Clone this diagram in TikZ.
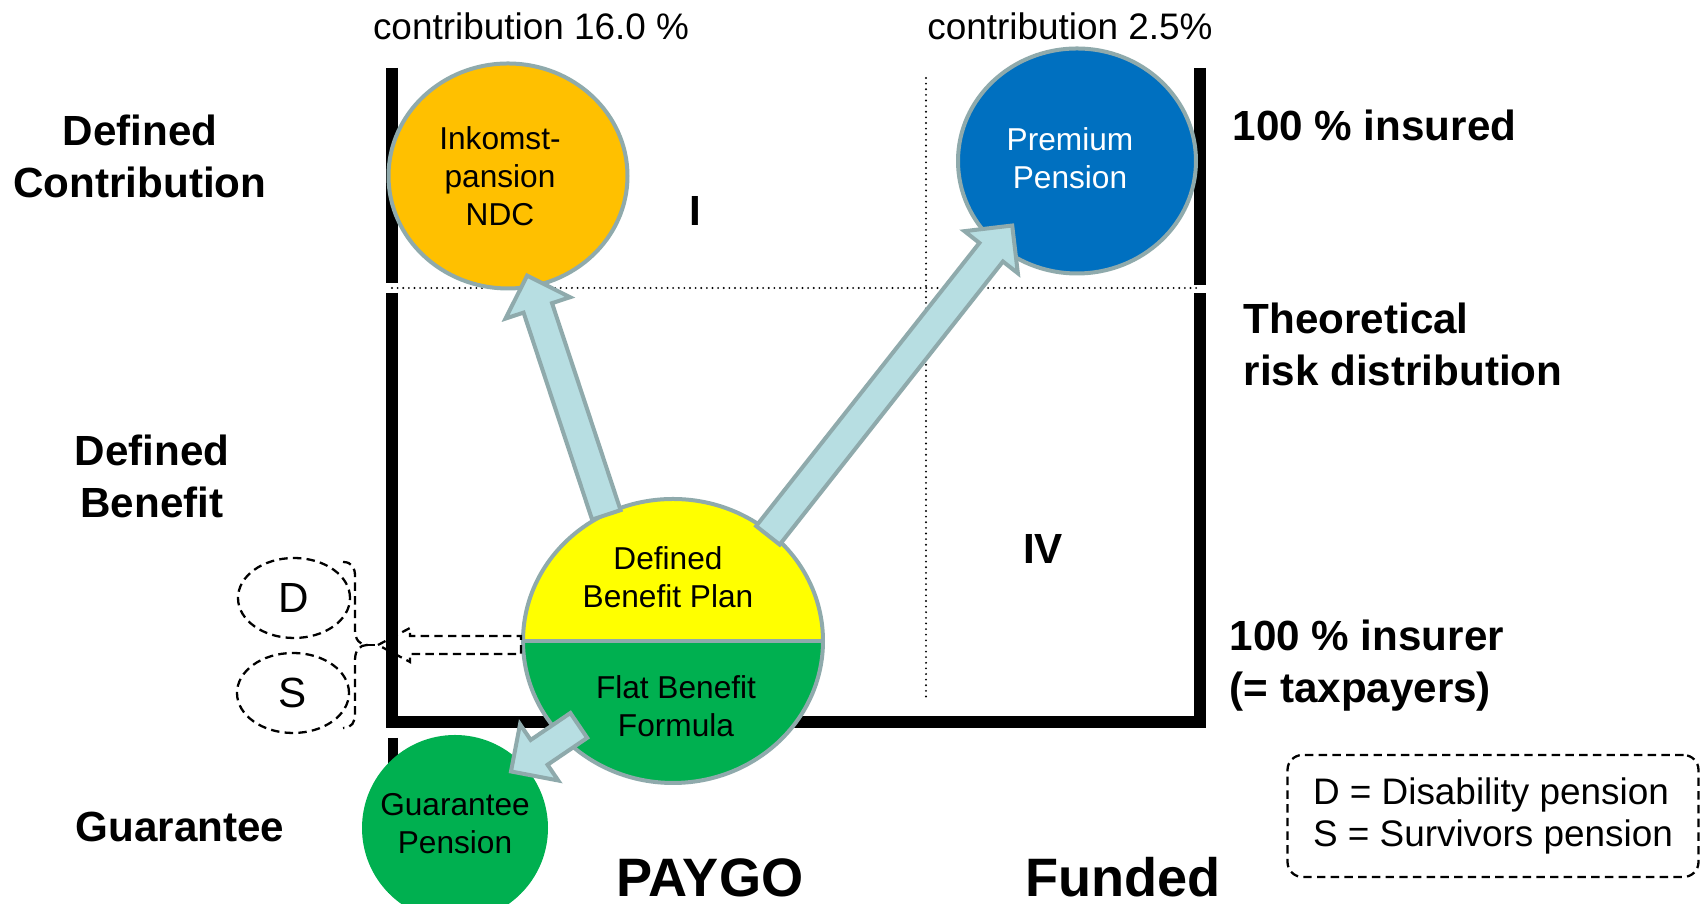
\documentclass[tikz,border=0pt]{standalone}
\usepackage{fontspec}
\setmainfont{Liberation Sans}
\usetikzlibrary{shapes.geometric,shapes.arrows,calc}

\definecolor{ringgray}{RGB}{143,170,172}
\definecolor{arrowfill}{RGB}{183,222,226}
\definecolor{ndcorange}{RGB}{255,192,0}
\definecolor{ppmblue}{RGB}{0,112,192}
\definecolor{dbyellow}{RGB}{255,255,0}
\definecolor{dbgreen}{RGB}{0,176,80}

% fat arrow from #2 (tail) to #3 (tip)
\newcommand{\fatarrow}[3][bigarrow]{%
  \path let \p1 = ($(#3)-(#2)$), \n1 = {atan2(\y1,\x1)}, \n2 = {veclen(\x1,\y1)} in
    node[#1, rotate=\n1, minimum height=\n2, anchor=tail] at (#2) {};}

\begin{document}
\begin{tikzpicture}[
		x=0.1mm, y=-0.1mm,
		rim/.style={line width=1.2mm, line join=miter},
		dotline/.style={line width=0.6pt, line cap=round, dash pattern=on 0pt off 1.6pt},
		dashpath/.style={line width=0.65pt, dash pattern=on 2.4pt off 1.5pt},
		pension/.style={ellipse, draw=ringgray, line width=0.4mm, inner sep=0pt},
		circtext/.style={inner sep=0pt, align=center, font=\fontsize{9}{10.8}\selectfont},
		bigarrow/.style={single arrow, draw=ringgray, fill=arrowfill, line width=0.4mm,
			inner xsep=0pt, inner ysep=1.3mm, single arrow head extend=1.9mm, minimum width=0pt},
		sidelabel/.style={inner sep=0pt, align=center, font=\bfseries\fontsize{12}{14.8}\selectfont},
		biglabel/.style={inner sep=0pt, anchor=base, font=\bfseries\fontsize{15.4}{17}\selectfont},
		smalltext/.style={inner sep=0pt, font=\fontsize{10.5}{12.2}\selectfont}
	]

		\fill[white] (0,0) rectangle (1706,904);
		\useasboundingbox (0,0) rectangle (1706,904);

		% Frame
		\draw[rim] (392,68) -- (392,283);
		\draw[rim] (1200,68) -- (1200,285);
		\draw[rim] (392,293) -- (392,722) -- (1200,722) -- (1200,293);
		\draw[line width=1mm] (393,738) -- (393,893);
		\draw[dotline] (392,288) -- (1200,288);
		\draw[dotline] (926,78) -- (926,698);

		% Pensions
		\node[pension, fill=ndcorange, minimum width=23.9mm, minimum height=22.5mm] (ndc) at (508,176) {};
		\node[circtext] (ndctext) at (500,176) {Inkomst-\\pansion\\NDC};
		\node[pension, fill=ppmblue, minimum width=23.8mm, minimum height=22.5mm] (ppm) at (1077,161) {};
		\node[circtext, text=white] (ppmtext) at (1070,158) {Premium\\Pension};
		\node[pension, minimum width=30mm, minimum height=28.4mm, path picture={
				\fill[dbyellow] (path picture bounding box.north west) rectangle (path picture bounding box.east);
				\fill[dbgreen] (path picture bounding box.west) rectangle (path picture bounding box.south east);
				\draw[ringgray, line width=0.45mm] (path picture bounding box.west) -- (path picture bounding box.east);
			}] (db) at (673,641) {};
		\node[circtext] (dbplan) at (668,577) {Defined\\Benefit Plan};
		\node[circtext] (flat) at (676,706) {Flat Benefit\\Formula};
		\node[circle, fill=dbgreen, minimum size=18.6mm, inner sep=0pt] (guar) at (455,828) {};
		\node[circtext] (guartext) at (455,824) {Guarantee\\Pension};

		% Arrows
		\coordinate (a1tail) at ($(db.center)!0.966!(db.118)$);
		\coordinate (a1tip) at ($(ndc.center)!0.9!(ndc.-79)$);
		\coordinate (a2tail) at ($(db.center)!0.95!(db.48)$);
		\coordinate (a2tip) at ($(ppm.center)!0.79!(ppm.-135)$);
		\coordinate (a3tail) at ($(db.center)!0.84!(db.-138)$);
		\coordinate (a3tip) at ($(guar.center)!0.87!(guar.45)$);
		\fatarrow{a1tail}{a1tip}
		\fatarrow{a2tail}{a2tip}
		\fatarrow{a3tail}{a3tip}

		% Disability and survivors
		\node[ellipse, draw, dashpath, minimum width=11.2mm, minimum height=8mm, inner sep=0pt,
			font=\fontsize{12}{12}\selectfont] (dis) at (294,598) {D};
		\node[ellipse, draw, dashpath, minimum width=11.2mm, minimum height=8mm, inner sep=0pt,
			font=\fontsize{12}{12}\selectfont] (surv) at (293,693) {S};
		\coordinate (brtip) at (367,645);
		\coordinate (dstip) at (378,645);
		\coordinate (dstail) at ($(db.west)+(0,4)$);
		\draw[dashpath] (343,562) .. controls (352,562) and (355,568) .. (355,576) -- (355,630)
			.. controls (355,640) and (360,645) .. (brtip)
			.. controls (360,645) and (355,650) .. (355,660) -- (355,714)
			.. controls (355,722) and (352,728) .. (343,728);
		\draw[dashpath] (brtip) -- (dstip);
		\draw[dashpath] (dstip) -- ++(32,-17) -- ++(0,8) -| (dstail) |- ($(dstip)+(32,9)$) -- ++(0,8) -- cycle;

		% Labels
		\node[smalltext, anchor=base] (c16) at (531,40) {contribution 16.0 \%};
		\node[smalltext, anchor=base] (c25) at (1070,40) {contribution 2.5\%};
		\node[sidelabel] (dcl) at (140,156) {Defined\\Contribution};
		\node[sidelabel] (dbl) at (152,476) {Defined\\Benefit};
		\node[sidelabel, anchor=base] (gl) at (180,842) {Guarantee};
		\node[sidelabel, anchor=base west] (insured) at (1232,141) {100 \% insured};
		\node[sidelabel, anchor=west, align=left] (risk) at (1243,344) {Theoretical\\risk distribution};
		\node[sidelabel, anchor=west, align=left] (insurer) at (1229,666) {100 \% insurer\\(= taxpayers)};
		\node[sidelabel, anchor=base] (q1) at (695,226) {I};
		\node[sidelabel, anchor=base] (q4) at (1043,564) {IV};
		\node[biglabel] (paygo) at (710,897) {PAYGO};
		\node[biglabel] (funded) at (1123,897) {Funded};
		\node[smalltext, draw, dashpath, rounded corners=1.5mm, minimum width=41.1mm,
			minimum height=12.2mm, align=left] (legend) at (1493,816) {D = Disability pension\\S = Survivors pension};
	\end{tikzpicture}
\end{document}
